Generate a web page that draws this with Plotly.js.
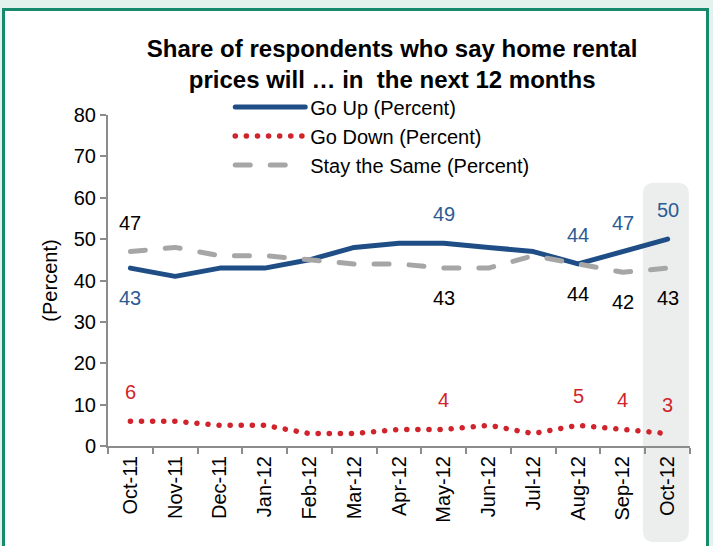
<!DOCTYPE html>
<html>
<head>
<meta charset="utf-8">
<script src="https://cdn.plot.ly/plotly-3.0.1.min.js"></script>
<style>
  html, body { margin: 0; padding: 0; background: #e4f2ee; }
  #frame {
    position: absolute; left: 2px; top: 8px; width: 701px; height: 546px;
    border: 3px solid #178a6d; border-bottom: none; background: #ffffff;
  }
  #chart { position: absolute; left: 0; top: 0; width: 713px; height: 546px; }
  #chart path.js-line { stroke-linecap: round; stroke-linejoin: round; }
</style>
</head>
<body>
<div id="frame"></div>
<div id="chart"></div>
<script>
// monthly survey values
const months = ["Oct-11", "Nov-11", "Dec-11", "Jan-12", "Feb-12", "Mar-12", "Apr-12",
                "May-12", "Jun-12", "Jul-12", "Aug-12", "Sep-12", "Oct-12"];
const goUp = [43, 41, 43, 43, 45, 48, 49, 49, 48, 47, 44, 47, 50];
const goDown = [6, 6, 5, 5, 3, 3, 4, 4, 5, 3, 5, 4, 3];
const staySame = [47, 48, 46, 46, 45, 44, 44, 43, 43, 46, 44, 42, 43];

// which months carry a value label, and on which side of the line
const labelMonths = [0, 7, 10, 11, 12];
const upLabelSide = ["below", "above", "above", "above", "above"];
const sameLabelSide = ["above", "below", "below", "below", "below"];
const downLabelSide = ["above", "above", "above", "above", "above"];

const BLUE = "#1f4e87", RED = "#d0232b", GREY = "#a6a6a6";
const FONT = "Liberation Sans, Arial, sans-serif";
const FS = 20;

function labels(values, sides, color) {
    return labelMonths.map((i, k) => ({
        x: months[i], y: values[i], xref: "x", yref: "y",
        text: String(values[i]), showarrow: false,
        yshift: sides[k] === "above" ? 29 : -30,
        font: { family: FONT, size: FS, color: color }
    }));
}

const traces = [
    {
        name: "Go Up (Percent)", x: months, y: goUp,
        type: "scatter", mode: "lines",
        line: { color: BLUE, width: 5 }
    },
    {
        name: "Go Down (Percent)", x: months, y: goDown,
        type: "scatter", mode: "lines",
        line: { color: RED, width: 5.5, dash: "0.1px,11px" }
    },
    {
        name: "Stay the Same (Percent)", x: months, y: staySame,
        type: "scatter", mode: "lines",
        line: { color: GREY, width: 5, dash: "15px,20px" }
    }
];

// rounded highlight behind the latest month (paper coords)
const bx0 = 0.919, bx1 = 0.998, by0 = -0.29, by1 = 0.795, rx = 0.02, ry = 0.035;
const highlight = {
    type: "path", xref: "paper", yref: "paper", layer: "below",
    fillcolor: "#eceeed", line: { width: 0 },
    path: `M${bx0 + rx},${by1} L${bx1 - rx},${by1} Q${bx1},${by1} ${bx1},${by1 - ry}` +
          ` L${bx1},${by0 + ry} Q${bx1},${by0} ${bx1 - rx},${by0} L${bx0 + rx},${by0}` +
          ` Q${bx0},${by0} ${bx0},${by0 + ry} L${bx0},${by1 - ry} Q${bx0},${by1} ${bx0 + rx},${by1} Z`
};

const layout = {
    width: 713, height: 546,
    margin: { l: 108, r: 23, t: 115, b: 100 },
    paper_bgcolor: "rgba(0,0,0,0)", plot_bgcolor: "rgba(0,0,0,0)",
    font: { family: FONT, size: FS, color: "#000" },
    title: {
        text: "<b>Share of respondents who say home rental<br>prices will \u2026 in  the next 12 months</b>",
        font: { family: FONT, size: 24, color: "#000" },
        x: 0.55, xanchor: "center", xref: "container",
        y: 0.896, yanchor: "middle", yref: "container"
    },
    showlegend: true,
    legend: {
        x: 0.21, xanchor: "left", y: 1.083, yanchor: "top",
        bgcolor: "rgba(0,0,0,0)", itemwidth: 70,
        font: { family: FONT, size: FS, color: "#000" },
        traceorder: "normal"
    },
    xaxis: {
        type: "category", range: [-0.5, 12.5],
        showline: true, linecolor: "#8c8c8c", linewidth: 2,
        ticks: "outside", tickson: "boundaries", ticklen: 6, tickcolor: "#8c8c8c", tickwidth: 2,
        tickangle: -90, showgrid: false, zeroline: false,
        tickfont: { family: FONT, size: FS, color: "#000" }
    },
    yaxis: {
        range: [0, 80], dtick: 10,
        showline: true, linecolor: "#8c8c8c", linewidth: 2,
        ticks: "outside", ticklen: 6, tickcolor: "#8c8c8c", tickwidth: 2,
        showgrid: false, zeroline: false,
        tickfont: { family: FONT, size: FS, color: "#000" },
        title: { text: "(Percent)", font: { family: FONT, size: FS, color: "#000" }, standoff: 11 }
    },
    shapes: [highlight],
    annotations: [].concat(
        labels(goUp, upLabelSide, "#2b5b94"),
        labels(staySame, sameLabelSide, "#000"),
        labels(goDown, downLabelSide, RED)
    )
};

Plotly.newPlot("chart", traces, layout, { displayModeBar: false, staticPlot: true });
</script>
</body>
</html>
